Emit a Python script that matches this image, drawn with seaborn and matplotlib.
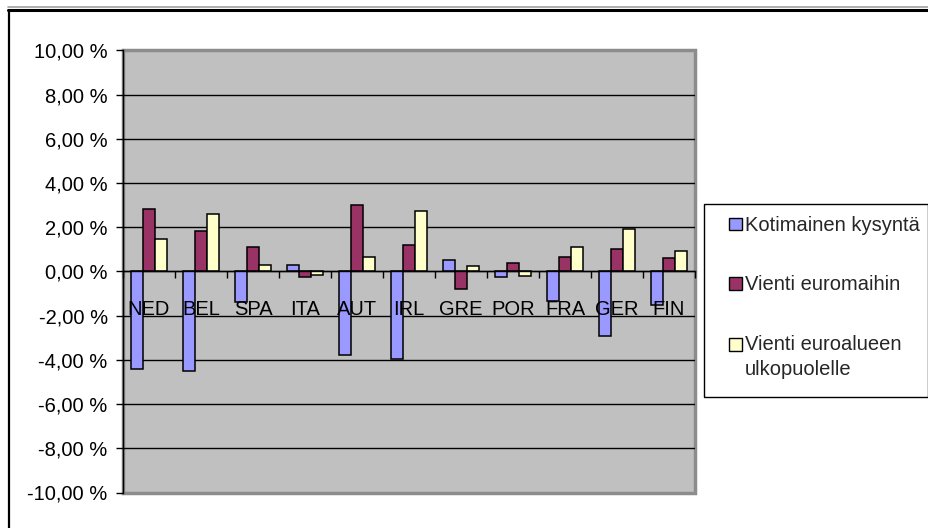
import numpy as np
import pandas as pd
import matplotlib
matplotlib.use("Agg")
import matplotlib.pyplot as plt
from matplotlib.lines import Line2D
from matplotlib.patches import Rectangle, Patch
from matplotlib.ticker import FuncFormatter, FixedLocator
import seaborn as sns

# Contributions to growth by country (percent)
countries = ["NED", "BEL", "SPA", "ITA", "AUT", "IRL", "GRE", "POR", "FRA", "GER", "FIN"]
kotimainen = [-4.40, -4.49, -1.39, 0.30, -3.76, -3.95, 0.50, -0.26, -1.34, -2.94, -1.51]
euromaihin = [2.84, 1.84, 1.10, -0.24, 3.02, 1.19, -0.78, 0.39, 0.66, 1.03, 0.59]
ulkopuolelle = [1.48, 2.58, 0.30, -0.15, 0.66, 2.73, 0.23, -0.20, 1.12, 1.91, 0.95]

series_names = ["Kotimainen kysyntä", "Vienti euromaihin", "Vienti euroalueen\nulkopuolelle"]
series_values = [kotimainen, euromaihin, ulkopuolelle]
colors = ["#9999FF", "#993366", "#FFFFCC"]
y_ticks = [-10, -8, -6, -4, -2, 0, 2, 4, 6, 8, 10]

df = pd.DataFrame({
    "maa": np.tile(countries, len(series_names)),
    "sarja": np.repeat(series_names, len(countries)),
    "arvo": np.concatenate(series_values),
})

sns.set_theme(style="white")
plt.rcParams["font.family"] = ["Liberation Sans", "DejaVu Sans"]
FS = 14.5

W, H = 929, 528
fig = plt.figure(figsize=(W / 100, H / 100), dpi=100)
fig.patch.set_facecolor("white")
ax = fig.add_axes([123 / W, 1 - 492.5 / H, (695 - 123) / W, (492.5 - 50.5) / H])

sns.barplot(data=df, x="maa", y="arvo", hue="sarja", order=countries,
            hue_order=series_names, palette=colors, width=0.69, gap=0,
            edgecolor="black", linewidth=1.1, saturation=1, ax=ax,
            legend=False, zorder=2)

ax.set_facecolor("#C0C0C0")
ax.patch.set_edgecolor("#8C8C8C")
ax.patch.set_linewidth(2.5)
ax.set_xlim(-0.5, len(countries) - 0.5)
ax.set_ylim(y_ticks[0], y_ticks[-1])
ax.set_axisbelow(False)

# interior gridlines
for v in y_ticks[1:-1]:
    ax.axhline(v, color="black", lw=1.0, zorder=1)

for s in ["top", "right"]:
    ax.spines[s].set_visible(False)
ax.spines["left"].set_color("black")
ax.spines["left"].set_linewidth(1.0)
ax.spines["bottom"].set_position(("data", 0))
ax.spines["bottom"].set_color("black")
ax.spines["bottom"].set_linewidth(1.0)

ax.yaxis.set_major_locator(FixedLocator(y_ticks))
ax.yaxis.set_major_formatter(FuncFormatter(lambda v, p: f"{v:.2f}".replace(".", ",") + " %"))
ax.tick_params(axis="y", which="major", direction="out", length=5, width=1,
               color="black", left=True, labelsize=FS, pad=6, labelcolor="black")

ax.set_xticks(range(len(countries)))
ax.set_xticklabels(countries)
ax.set_xticks(np.arange(-0.5, len(countries), 1), minor=True)
ax.tick_params(axis="x", which="major", length=0, labelsize=FS, pad=20.5, labelcolor="black")
ax.tick_params(axis="x", which="minor", direction="out", length=5, width=1,
               color="black", bottom=True)
ax.set_xlabel("")
ax.set_ylabel("")

# outer chart frame
fig.add_artist(Line2D([8 / W, 1], [1 - 7 / H, 1 - 7 / H], color="#A0A0A0", lw=1.2))
fig.add_artist(Line2D([8 / W, 1], [1 - 9.5 / H, 1 - 9.5 / H], color="black", lw=2.2))
fig.add_artist(Line2D([9 / W, 9 / W], [0, 1 - 9.5 / H], color="black", lw=1.6))

# legend box
fig.add_artist(Rectangle((704 / W, 1 - 396.5 / H), (928 - 704) / W, (396.5 - 204) / H,
                         transform=fig.transFigure, facecolor="white",
                         edgecolor="black", lw=1.0))
handles = [Patch(facecolor=c, edgecolor="black", lw=1.0) for c in colors]
leg = fig.legend(handles, series_names, loc="upper left",
                 bbox_to_anchor=(719 / W, 1 - 206 / H), frameon=False,
                 fontsize=FS, handlelength=0.65, handleheight=0.6,
                 handletextpad=0.15, labelspacing=2.0, borderpad=0)
for t in leg.get_texts():
    t.set_linespacing(1.4)
# put the two-line entry's swatch beside its first line
last = leg.legend_handles[2]
last.set_y(last.get_y() + 9)

fig.savefig("out.png", dpi=100)
